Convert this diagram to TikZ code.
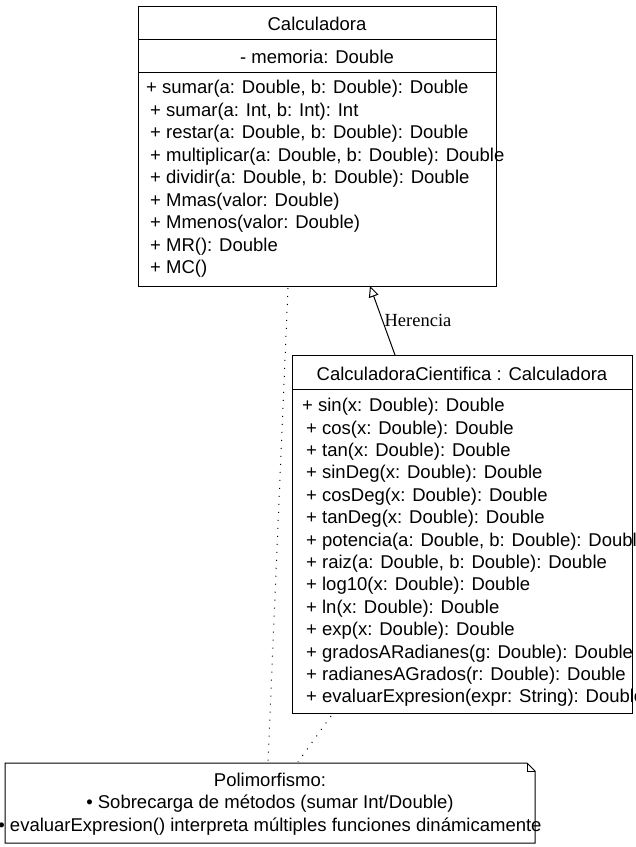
\documentclass[tikz,border=0pt]{standalone}
\usepackage{fontspec}
\setmainfont{Liberation Sans}
\newfontfamily\serifface{Liberation Serif}
\usetikzlibrary{arrows.meta}
\tikzset{
  umlbox/.style={draw=black, line width=1pt, fill=white, rectangle, inner sep=0pt, anchor=north west},
  txt/.style={inner sep=0pt, font=\fontsize{18.5}{22.4}\selectfont, anchor=west, yshift=-2pt},
  ctxt/.style={inner sep=0pt, font=\fontsize{18.5}{22.4}\selectfont, anchor=center, yshift=-1.5pt},
  sep/.style={draw=black, line width=1pt},
  inherit/.style={draw=black, line width=1pt, -{Triangle[open, length=11pt, width=10pt, fill=white]}},
  dotline/.style={draw=black, line width=1pt, dash pattern=on 1pt off 7pt},
  lbl/.style={inner sep=0pt, font=\serifface\fontsize{18.5}{22}\selectfont}
}
\begin{document}
\begin{tikzpicture}[x=1pt, y=-1pt]
\useasboundingbox (0,0) rectangle (636,847);
\fill[white] (0,0) rectangle (636,847);

% ---- Calculadora ----
\node[umlbox, minimum width=358pt, minimum height=280pt] (calc) at (138,6) {};
\draw[sep] (138,39) -- (496,39);
\draw[sep] (138,72) -- (496,72);
\node[ctxt] (calcT) at (317,22) {Calculadora};
\node[ctxt] (calcA) at (317,55) {- memoria: Double};
\node[txt] (c1) at (146,87) {+ sumar(a: Double, b: Double): Double};
\node[txt] (c2) at (150,109.5) {+ sumar(a: Int, b: Int): Int};
\node[txt] (c3) at (150,132) {+ restar(a: Double, b: Double): Double};
\node[txt] (c4) at (150,154.5) {+ multiplicar(a: Double, b: Double): Double};
\node[txt] (c5) at (150,177) {+ dividir(a: Double, b: Double): Double};
\node[txt] (c6) at (150,199.5) {+ Mmas(valor: Double)};
\node[txt] (c7) at (150,222) {+ Mmenos(valor: Double)};
\node[txt] (c8) at (150,244.5) {+ MR(): Double};
\node[txt] (c9) at (150,267) {+ MC()};

% ---- CalculadoraCientifica ----
\node[umlbox, minimum width=340pt, minimum height=358pt] (cc) at (292,355) {};
\draw[sep] (292,389) -- (632,389);
\node[ctxt] (ccT) at (462,372) {CalculadoraCientifica : Calculadora};
\node[txt] (s1) at (302,405) {+ sin(x: Double): Double};
\node[txt] (s2) at (306,427.4) {+ cos(x: Double): Double};
\node[txt] (s3) at (306,449.8) {+ tan(x: Double): Double};
\node[txt] (s4) at (306,472.2) {+ sinDeg(x: Double): Double};
\node[txt] (s5) at (306,494.6) {+ cosDeg(x: Double): Double};
\node[txt] (s6) at (306,517) {+ tanDeg(x: Double): Double};
\node[txt] (s7) at (306,539.4) {+ potencia(a: Double, b: Double): Double};
\node[txt] (s8) at (306,561.8) {+ raiz(a: Double, b: Double): Double};
\node[txt] (s9) at (306,584.2) {+ log10(x: Double): Double};
\node[txt] (s10) at (306,606.6) {+ ln(x: Double): Double};
\node[txt] (s11) at (306,629) {+ exp(x: Double): Double};
\node[txt] (s12) at (306,651.4) {+ gradosARadianes(g: Double): Double};
\node[txt] (s13) at (306,673.8) {+ radianesAGrados(r: Double): Double};
\node[txt] (s14) at (306,696.2) {+ evaluarExpresion(expr: String): Double};

% ---- Note ----
\node[inner sep=0pt, minimum width=530pt, minimum height=80pt, anchor=north west] (note) at (5,763) {};
\draw[line width=1pt, fill=white] (5,763) -- (527,763) -- (535,771) -- (535,843) -- (5,843) -- cycle;
\draw[line width=1pt] (527,763) -- (527,771) -- (535,771);
\node[ctxt, align=center, yshift=-1pt] (noteT) at (270,801.5) {Polimorfismo:\\
\textbullet\ Sobrecarga de métodos (sumar Int/Double)\\
\textbullet\ evaluarExpresion() interpreta múltiples funciones dinámicamente};

% ---- Connectors ----
\coordinate (inhS) at (395,355);
\coordinate (inhE) at (370,286);
\draw[inherit] (inhS) -- (inhE);
\node[lbl] (herencia) at (418,320) {Herencia};

\coordinate (d1S) at (288,288);
\coordinate (d1E) at (268,762);
\draw[dotline] (d1S) -- (d1E);
\coordinate (d2S) at (331,716);
\coordinate (d2E) at (298,762);
\draw[dotline] (d2S) -- (d2E);
\end{tikzpicture}
\end{document}
